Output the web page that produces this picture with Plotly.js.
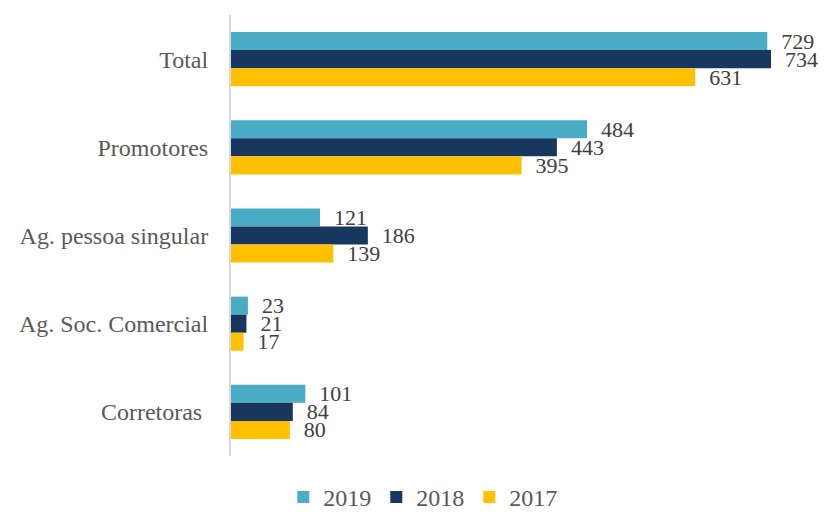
<!DOCTYPE html>
<html>
<head>
<meta charset="utf-8">
<script src="https://cdn.plot.ly/plotly-3.0.1.min.js"></script>
<style>html,body{margin:0;padding:0;background:#fff;}</style>
</head>
<body>
<div id="chart" style="width:829px;height:515px;"></div>
<script>
const categories = ["Total", "Promotores", "Ag. pessoa singular", "Ag. Soc. Comercial", "Corretoras "];
const seriesNames = ["2019", "2018", "2017"];
const values2019 = [729, 484, 121, 23, 101];
const values2018 = [734, 443, 186, 21, 84];
const values2017 = [631, 395, 139, 17, 80];
const colors = ["#4BACC6", "#17375E", "#FFC000"];

const allValues = [values2019, values2018, values2017];
const traces = allValues.map((vals, i) => ({
  type: "bar",
  orientation: "h",
  name: seriesNames[i],
  x: vals,
  y: categories,
  marker: {color: colors[i]},
  text: vals.map(v => "\u2002" + v),
  textposition: "outside",
  constraintext: "none",
  cliponaxis: false,
  textfont: {family: "Liberation Serif, serif", size: 22, color: "#404040"},
  hoverinfo: "x+name"
}));

const layout = {
  width: 829,
  height: 515,
  margin: {l: 231, r: 58, t: 15, b: 59},
  paper_bgcolor: "#ffffff",
  plot_bgcolor: "#ffffff",
  barmode: "group",
  bargap: 0.386,
  bargroupgap: 0,
  font: {family: "Liberation Serif, serif", color: "#595959", size: 20},
  xaxis: {
    range: [0, 734],
    autorange: false,
    showgrid: false,
    zeroline: false,
    showticklabels: false,
    showline: false,
    ticks: ""
  },
  yaxis: {
    type: "category",
    autorange: "reversed",
    showline: true,
    linecolor: "#D9D9D9",
    linewidth: 2,
    ticks: "",
    showgrid: false,
    ticklabelstandoff: 16,
    tickfont: {family: "Liberation Serif, serif", size: 24, color: "#595959"}
  },
  showlegend: true,
  legend: {
    orientation: "h",
    x: 0.51,
    xref: "container",
    xanchor: "center",
    y: 0.034,
    yref: "container",
    yanchor: "middle",
    font: {family: "Liberation Serif, serif", size: 24, color: "#595959"},
    traceorder: "normal"
  }
};

Plotly.newPlot("chart", traces, layout, {displayModeBar: false, staticPlot: true});
</script>
</body>
</html>
